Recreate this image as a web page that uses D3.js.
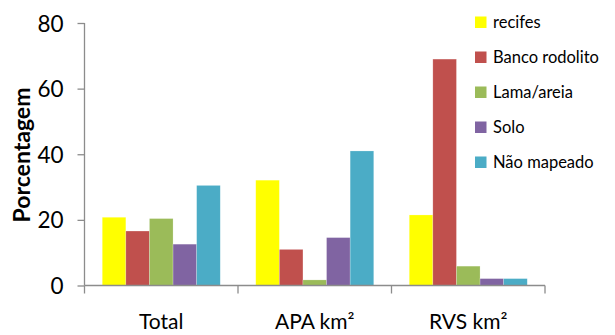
<!DOCTYPE html>
<html><head><meta charset="utf-8">
<script src="https://cdn.jsdelivr.net/npm/d3@7"></script>
<style>body{margin:0;background:#fff}svg{display:block}</style>
</head><body>
<script>
const categories = ["Total", "APA km²", "RVS km²"];
const seriesNames = ["recifes", "Banco rodolito", "Lama/areia", "Solo", "Não mapeado"];
const seriesColors = ["#FFFF00", "#C0504D", "#9BBB59", "#8064A2", "#4BACC6"];
const recifes = [20.8, 32.1, 21.5];
const bancoRodolito = [16.6, 11.0, 69.0];
const lamaAreia = [20.4, 1.7, 5.9];
const solo = [12.6, 14.6, 2.1];
const naoMapeado = [30.5, 41.0, 2.1];
const yTicks = [0, 20, 40, 60, 80];

const values = [recifes, bancoRodolito, lamaAreia, solo, naoMapeado];
const W = 615, H = 335;
const m = {left: 84.5, right: 70, top: 23, bottom: 49.5};
const svg = d3.select("body").append("svg").attr("width", W).attr("height", H);
const font = "Lato, 'Open Sans', sans-serif";

const x0 = d3.scaleBand().domain(categories).range([m.left, W - m.right]).paddingInner(0).paddingOuter(0);
const x1 = d3.scaleBand().domain(seriesNames).range([0, x0.bandwidth()]).paddingInner(0);
x1.paddingOuter((x0.bandwidth() / 23.6 - 5) / 2);
const y = d3.scaleLinear().domain([0, 80]).range([H - m.bottom, m.top]);

const axisColor = "#8c8c8c";

// bars
categories.forEach((c, ci) => {
  seriesNames.forEach((s, si) => {
    const v = values[si][ci];
    svg.append("rect")
      .attr("x", x0(c) + x1(s))
      .attr("y", y(v))
      .attr("width", x1.bandwidth())
      .attr("height", y(0) - y(v))
      .attr("fill", seriesColors[si])
      .attr("stroke", "rgba(255,255,255,0.35)")
      .attr("stroke-width", 0.6);
  });
});

// y axis
const yAxis = d3.axisLeft(y).tickValues(yTicks).tickSize(7).tickPadding(14);
const gy = svg.append("g").attr("transform", `translate(${m.left},0)`).call(yAxis);
gy.select(".domain").attr("stroke", axisColor).attr("stroke-width", 1.3).attr("d", `M0,${y(80)}V${y(0)}`);
gy.selectAll(".tick line").attr("stroke", axisColor).attr("stroke-width", 1.3);
gy.selectAll(".tick text").attr("font-family", font).attr("font-size", 22.5).attr("fill", "#000").attr("dy", "0.36em");

// x axis
const xb = y(0);
svg.append("line").attr("x1", m.left).attr("x2", W - m.right).attr("y1", xb).attr("y2", xb).attr("stroke", axisColor).attr("stroke-width", 1.3);
const boundaries = categories.map(c => x0(c)).concat([x0(categories[categories.length - 1]) + x0.bandwidth()]);
svg.selectAll(".xt").data(boundaries).enter().append("line")
  .attr("x1", d => d).attr("x2", d => d).attr("y1", xb).attr("y2", xb + 8).attr("stroke", axisColor).attr("stroke-width", 1.3);
svg.selectAll(".xl").data(categories).enter().append("text")
  .attr("x", d => x0(d) + x0.bandwidth() / 2).attr("y", 329)
  .attr("text-anchor", "middle").attr("font-family", font).attr("font-size", 21).text(d => d);

// y label
svg.append("text").attr("transform", `translate(30,155) rotate(-90)`)
  .attr("text-anchor", "middle").attr("font-family", font).attr("font-weight", "bold")
  .attr("font-size", 23).text("Porcentagem");

// legend
seriesNames.forEach((s, i) => {
  const cy = 22 + i * 35;
  svg.append("rect").attr("x", 475).attr("y", cy - 5.5).attr("width", 11.5).attr("height", 11.5).attr("fill", seriesColors[i]);
  svg.append("text").attr("x", 493).attr("y", cy + 6).attr("font-family", font).attr("font-size", 16.5).text(s);
});
</script>
</body></html>
